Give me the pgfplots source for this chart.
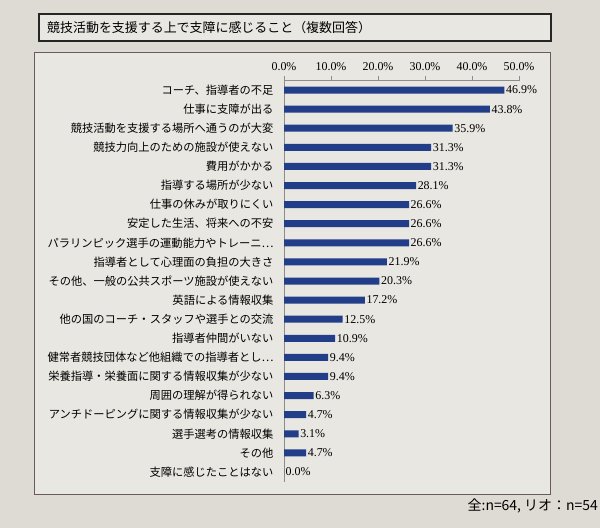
\documentclass[border=0pt]{standalone}
\usepackage{pgfplots}
\pgfplotsset{compat=1.18}
\usepackage{fontspec}
\setmainfont{Liberation Serif}
\newfontfamily\jp{Noto Sans CJK JP}
\definecolor{paper}{RGB}{222,219,213}
\definecolor{inner}{RGB}{233,231,226}
\definecolor{barblue}{RGB}{34,62,136}
\definecolor{frame}{RGB}{105,90,92}
\definecolor{axgray}{RGB}{140,140,140}
\begin{document}
\begin{tikzpicture}
\path[use as bounding box, fill=paper] (0bp,0bp) rectangle (600bp,528bp);
% title box
\draw[line width=1.6bp, draw=black!85, fill=inner] (39bp,487bp) rectangle (551bp,514bp);
\node[anchor=west, inner sep=0pt, font=\jp\fontsize{13}{15}\selectfont] at (47bp,500.5bp) {競技活動を支援する上で支障に感じること（複数回答）};
% chart box
\draw[line width=0.9bp, draw=frame, fill=inner] (34bp,34bp) rectangle (550bp,476bp);
\begin{axis}[
  at={(284bp,447.5bp)}, anchor=north west,
  scale only axis, width=235bp, height=401bp,
  xbar, bar width=7bp,
  xmin=0, xmax=50, ymin=-0.5, ymax=20.5,
  y dir=reverse,
  axis x line*=top, axis y line*=left,
  axis line style={draw=axgray, line width=0.8bp},
  xtick={0,10,20,30,40,50},
  xticklabel pos=top,
  xticklabel={\pgfmathprintnumber[fixed,fixed zerofill,precision=1]{\tick}\%},
  /pgf/number format/assume math mode=true,
  xticklabel style={font=\fontsize{12}{14}\selectfont, yshift=2bp},
  ytick={0,...,20},
  minor ytick={-0.5,0.5,...,20.5},
  tick align=outside,
  major tick length=4bp, minor tick length=4bp,
  ytick style={draw=none},
  minor tick style={draw=axgray, line width=0.6bp},
  xtick style={draw=axgray, line width=0.6bp},
  yticklabel style={font=\jp\fontsize{11.3}{13}\selectfont, xshift=-3bp},
  yticklabels={コーチ、指導者の不足,仕事に支障が出る,競技活動を支援する場所へ通うのが大変,競技力向上のための施設が使えない,費用がかかる,指導する場所が少ない,仕事の休みが取りにくい,安定した生活、将来への不安,パラリンピック選手の運動能力やトレーニ…,指導者として心理面の負担の大きさ,その他、一般の公共スポーツ施設が使えない,英語による情報収集,他の国のコーチ・スタッフや選手との交流,指導者仲間がいない,健常者競技団体など他組織での指導者とし…,栄養指導・栄養面に関する情報収集が少ない,周囲の理解が得られない,アンチドーピングに関する情報収集が少ない,選手選考の情報収集,その他,支障に感じたことはない},
  nodes near coords={\pgfmathprintnumber[fixed,fixed zerofill,precision=1,assume math mode=true]{\pgfplotspointmeta}\%},
  nodes near coords align={horizontal},
  nodes near coords style={font=\fontsize{12}{14}\selectfont, inner sep=1.5bp},
  point meta=explicit,
  clip=false,
]
\addplot[fill=barblue, draw=none] table[x=v, y=i, meta=v] {
i v
0 46.9
1 43.8
2 35.9
3 31.3
4 31.3
5 28.1
6 26.6
7 26.6
8 26.6
9 21.9
10 20.3
11 17.2
12 12.5
13 10.9
14 9.4
15 9.4
16 6.3
17 4.7
18 3.1
19 4.7
20 0.0
};
\end{axis}
\node[anchor=east, inner sep=0pt, font=\jp\fontsize{14}{16}\selectfont] at (598bp,22bp) {全:n=64, リオ：n=54};
\end{tikzpicture}
\end{document}
